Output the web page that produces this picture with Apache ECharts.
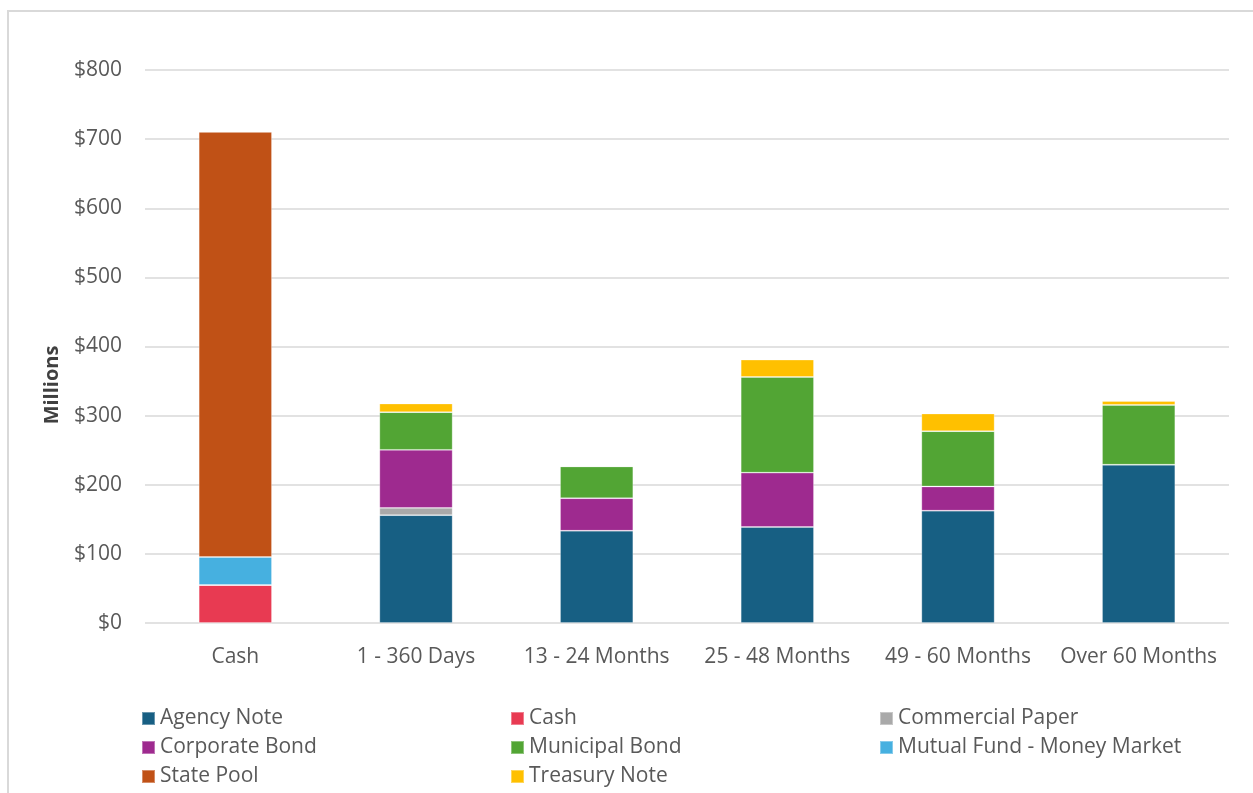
<!DOCTYPE html>
<html>
<head>
<meta charset="utf-8">
<script src="https://cdn.jsdelivr.net/npm/echarts@6/dist/echarts.min.js"></script>
<style>
html,body{margin:0;padding:0;background:#fff;}
#frame{position:absolute;left:7px;top:10px;width:1260px;height:800px;border:2px solid #d9d9d9;box-sizing:border-box;}
#chart{position:absolute;left:0;top:0;width:1253px;height:793px;}
</style>
</head>
<body>
<div id="frame"></div>
<div id="chart"></div>
<script>
const categories = ['Cash', '1 - 360 Days', '13 - 24 Months', '25 - 48 Months', '49 - 60 Months', 'Over 60 Months'];
const yTicks = [0, 100, 200, 300, 400, 500, 600, 700, 800];

const agencyNote      = [0, 156, 133.5, 139, 162.5, 229];
const cash            = [55, 0, 0, 0, 0, 0];
const commercialPaper = [0, 10.5, 0, 0, 0, 0];
const corporateBond   = [0, 84, 47, 78.5, 35, 0];
const municipalBond   = [0, 54.5, 46, 138.5, 80, 86.5];
const mutualFundMM    = [40.5, 0, 0, 0, 0, 0];
const statePool       = [615, 0, 0, 0, 0, 0];
const treasuryNote    = [0, 12.5, 0, 25, 25.5, 5.5];

const seriesDefs = [
  ['Agency Note', agencyNote, '#175F83'],
  ['Cash', cash, '#E83A52'],
  ['Commercial Paper', commercialPaper, '#A9A9A9'],
  ['Corporate Bond', corporateBond, '#9E2A8F'],
  ['Municipal Bond', municipalBond, '#52A534'],
  ['Mutual Fund - Money Market', mutualFundMM, '#46B0E0'],
  ['State Pool', statePool, '#C05116'],
  ['Treasury Note', treasuryNote, '#FFC000']
];

const font = '"Open Sans", sans-serif';
const txt = '#595959';

const chart = echarts.init(document.getElementById('chart'));
const legendBase = {
  orient: 'vertical', top: 703, itemWidth: 13, itemHeight: 13, itemGap: 8,
  icon: 'rect', textStyle: {fontFamily: font, fontSize: 21, color: txt, height: 20, lineHeight: 20, padding: [0,0,0,0]}
};
chart.setOption({
  animation: false,
  grid: {left: 145, right: 24, top: 70, bottom: 170, containLabel: false},
  legend: [
    Object.assign({left: 136, data: ['Agency Note', 'Corporate Bond', 'State Pool']}, legendBase),
    Object.assign({left: 505, data: ['Cash', 'Municipal Bond', 'Treasury Note']}, legendBase),
    Object.assign({left: 874, data: ['Commercial Paper', 'Mutual Fund - Money Market']}, legendBase)
  ],
  graphic: [{
    type: 'text', x: 52, y: 385, rotation: Math.PI / 2,
    style: {text: 'Millions', font: 'bold 20px "Open Sans", sans-serif', fill: '#404040', textAlign: 'center', textVerticalAlign: 'middle'}
  }],
  xAxis: {
    type: 'category', data: categories,
    axisLine: {show: false}, axisTick: {show: false},
    axisLabel: {fontFamily: font, fontSize: 21, color: txt, margin: 24, interval: 0}
  },
  yAxis: {
    type: 'value', min: 0, max: 800, interval: 100,
    axisLine: {show: false}, axisTick: {show: false},
    splitLine: {lineStyle: {color: '#d9d9d9', width: 1.5}},
    axisLabel: {fontFamily: font, fontSize: 21, color: txt, margin: 23,
      formatter: v => yTicks.includes(v) ? '$' + v : ''}
  },
  series: seriesDefs.map(([name, data, color]) => ({
    name, type: 'bar', stack: 'total', data,
    barWidth: '40.5%',
    itemStyle: {color, borderColor: 'rgba(255,255,255,0.35)', borderWidth: 0.8}
  }))
});
</script>
</body>
</html>
